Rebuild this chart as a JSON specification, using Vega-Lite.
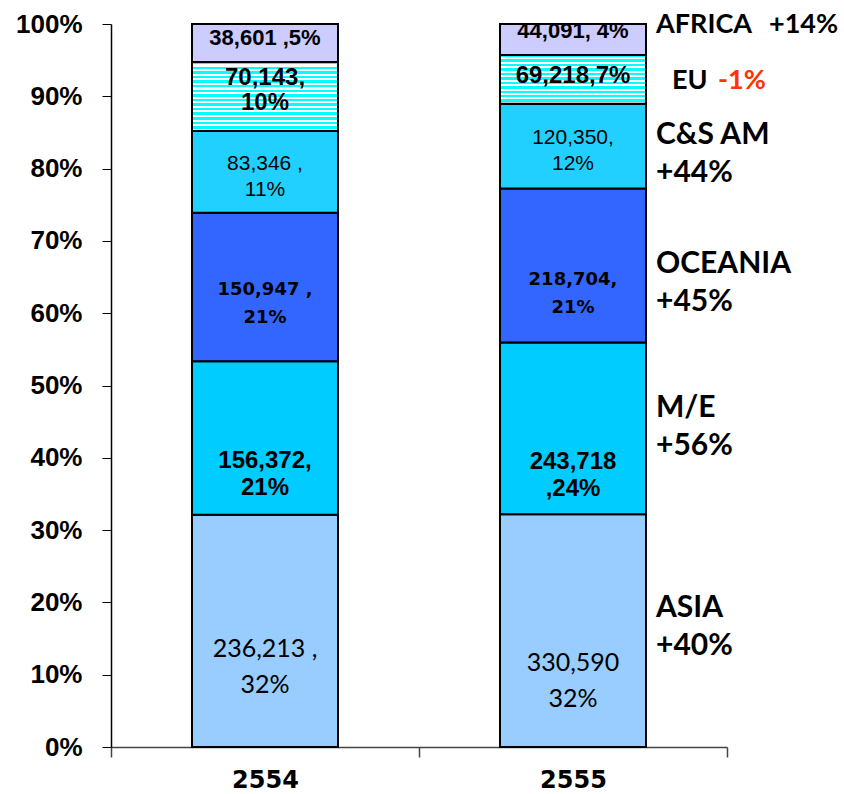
{
  "$schema": "https://vega.github.io/schema/vega-lite/v6.json",
  "autosize": {"type": "none"},
  "padding": {"left": 111, "top": 24, "right": 117, "bottom": 47},
  "width": 616,
  "height": 723,
  "background": "white",
  "config": {"view": {"stroke": null}},
  "data": {"values": [
    {"year": "2554", "region": "ASIA", "value": 236213, "label": "236,213 ,\n32%", "growth": "+40%"},
    {"year": "2554", "region": "M/E", "value": 156372, "label": "156,372,\n21%", "growth": "+56%"},
    {"year": "2554", "region": "OCEANIA", "value": 150947, "label": "150,947 ,\n21%", "growth": "+45%"},
    {"year": "2554", "region": "C&S AM", "value": 83346, "label": "83,346 ,\n11%", "growth": "+44%"},
    {"year": "2554", "region": "EU", "value": 70143, "label": "70,143,\n10%", "growth": "-1%"},
    {"year": "2554", "region": "AFRICA", "value": 38601, "label": "38,601 ,5%", "growth": "+14%"},
    {"year": "2555", "region": "ASIA", "value": 330590, "label": "330,590\n32%", "growth": "+40%"},
    {"year": "2555", "region": "M/E", "value": 243718, "label": "243,718\n,24%", "growth": "+56%"},
    {"year": "2555", "region": "OCEANIA", "value": 218704, "label": "218,704,\n21%", "growth": "+45%"},
    {"year": "2555", "region": "C&S AM", "value": 120350, "label": "120,350,\n12%", "growth": "+44%"},
    {"year": "2555", "region": "EU", "value": 69218, "label": "69,218,7%", "growth": "-1%"},
    {"year": "2555", "region": "AFRICA", "value": 44091, "label": "44,091, 4%", "growth": "+14%"}
  ]},
  "transform": [
    {"calculate": "indexof(['ASIA','M/E','OCEANIA','C&S AM','EU','AFRICA'], datum.region)", "as": "ord"},
    {"stack": "value", "groupby": ["year"], "sort": [{"field": "ord", "order": "ascending"}], "offset": "normalize", "as": ["y0", "y1"]},
    {"calculate": "(datum.y0 + datum.y1) / 2", "as": "ymid"}
  ],
  "layer": [
    {
      "mark": {"type": "bar", "width": {"band": 0.474}, "stroke": "black", "strokeWidth": 2},
      "encoding": {
        "x": {"field": "year", "type": "nominal", "scale": {"paddingInner": 0, "paddingOuter": 0},
          "axis": {"title": null, "labelAngle": 0, "tickBand": "extent", "domainColor": "#444444", "domainWidth": 1.5, "tickColor": "#444444", "tickWidth": 1.5, "tickSize": 10, "labelFont": "DejaVu Sans", "labelFontWeight": "bold", "labelFontSize": 24, "labelColor": "black", "labelPadding": 11}},
        "y": {"field": "y0", "type": "quantitative", "scale": {"domain": [0, 1], "nice": false},
          "axis": {"title": null, "values": [0, 0.1, 0.2, 0.3, 0.4, 0.5, 0.6, 0.7, 0.8, 0.9, 1], "format": ".0%", "grid": false, "domainColor": "black", "domainWidth": 1.5, "tickColor": "black", "tickSize": 9, "labelFont": "Liberation Sans", "labelFontWeight": "bold", "labelFontSize": 26, "labelColor": "black", "labelPadding": 20}},
        "y2": {"field": "y1"},
        "fill": {"field": "region", "type": "nominal", "legend": null,
          "scale": {"domain": ["ASIA", "M/E", "OCEANIA", "C&S AM", "EU", "AFRICA"], "range": ["#99CCFF", "#00CCFF", "#3366FF", "#21D0FF", "#80FFFF", "#CCCCFF"]}}
      }
    },
    {
      "transform": [{"filter": "datum.region === 'EU' && datum.year === '2554'"}],
      "mark": {"type": "bar", "width": {"band": 0.474}, "stroke": "black", "strokeWidth": 2,
        "fill": {"gradient": "linear", "x1": 0, "y1": 0, "x2": 0, "y2": 1, "stops": [
          {"offset": 0, "color": "#00FFFF"}, {"offset": 0.0367, "color": "#00FFFF"}, {"offset": 0.0367, "color": "#FFFFFF"}, {"offset": 0.0667, "color": "#FFFFFF"},
          {"offset": 0.0667, "color": "#00FFFF"}, {"offset": 0.1033, "color": "#00FFFF"}, {"offset": 0.1033, "color": "#FFFFFF"}, {"offset": 0.1333, "color": "#FFFFFF"},
          {"offset": 0.1333, "color": "#00FFFF"}, {"offset": 0.17, "color": "#00FFFF"}, {"offset": 0.17, "color": "#FFFFFF"}, {"offset": 0.2, "color": "#FFFFFF"},
          {"offset": 0.2, "color": "#00FFFF"}, {"offset": 0.2367, "color": "#00FFFF"}, {"offset": 0.2367, "color": "#FFFFFF"}, {"offset": 0.2667, "color": "#FFFFFF"},
          {"offset": 0.2667, "color": "#00FFFF"}, {"offset": 0.3033, "color": "#00FFFF"}, {"offset": 0.3033, "color": "#FFFFFF"}, {"offset": 0.3333, "color": "#FFFFFF"},
          {"offset": 0.3333, "color": "#00FFFF"}, {"offset": 0.37, "color": "#00FFFF"}, {"offset": 0.37, "color": "#FFFFFF"}, {"offset": 0.4, "color": "#FFFFFF"},
          {"offset": 0.4, "color": "#00FFFF"}, {"offset": 0.4367, "color": "#00FFFF"}, {"offset": 0.4367, "color": "#FFFFFF"}, {"offset": 0.4667, "color": "#FFFFFF"},
          {"offset": 0.4667, "color": "#00FFFF"}, {"offset": 0.5033, "color": "#00FFFF"}, {"offset": 0.5033, "color": "#FFFFFF"}, {"offset": 0.5333, "color": "#FFFFFF"},
          {"offset": 0.5333, "color": "#00FFFF"}, {"offset": 0.57, "color": "#00FFFF"}, {"offset": 0.57, "color": "#FFFFFF"}, {"offset": 0.6, "color": "#FFFFFF"},
          {"offset": 0.6, "color": "#00FFFF"}, {"offset": 0.6367, "color": "#00FFFF"}, {"offset": 0.6367, "color": "#FFFFFF"}, {"offset": 0.6667, "color": "#FFFFFF"},
          {"offset": 0.6667, "color": "#00FFFF"}, {"offset": 0.7033, "color": "#00FFFF"}, {"offset": 0.7033, "color": "#FFFFFF"}, {"offset": 0.7333, "color": "#FFFFFF"},
          {"offset": 0.7333, "color": "#00FFFF"}, {"offset": 0.77, "color": "#00FFFF"}, {"offset": 0.77, "color": "#FFFFFF"}, {"offset": 0.8, "color": "#FFFFFF"},
          {"offset": 0.8, "color": "#00FFFF"}, {"offset": 0.8367, "color": "#00FFFF"}, {"offset": 0.8367, "color": "#FFFFFF"}, {"offset": 0.8667, "color": "#FFFFFF"},
          {"offset": 0.8667, "color": "#00FFFF"}, {"offset": 0.9033, "color": "#00FFFF"}, {"offset": 0.9033, "color": "#FFFFFF"}, {"offset": 0.9333, "color": "#FFFFFF"},
          {"offset": 0.9333, "color": "#00FFFF"}, {"offset": 0.97, "color": "#00FFFF"}, {"offset": 0.97, "color": "#FFFFFF"}, {"offset": 1, "color": "#FFFFFF"}
        ]}},
      "encoding": {
        "x": {"field": "year", "type": "nominal"},
        "y": {"field": "y0", "type": "quantitative"},
        "y2": {"field": "y1"}
      }
    },
    {
      "transform": [{"filter": "datum.region === 'EU' && datum.year === '2555'"}],
      "mark": {"type": "bar", "width": {"band": 0.474}, "stroke": "black", "strokeWidth": 2,
        "fill": {"gradient": "linear", "x1": 0, "y1": 0, "x2": 0, "y2": 1, "stops": [
          {"offset": 0, "color": "#00FFFF"}, {"offset": 0.05, "color": "#00FFFF"}, {"offset": 0.05, "color": "#FFFFFF"}, {"offset": 0.0909, "color": "#FFFFFF"},
          {"offset": 0.0909, "color": "#00FFFF"}, {"offset": 0.1409, "color": "#00FFFF"}, {"offset": 0.1409, "color": "#FFFFFF"}, {"offset": 0.1818, "color": "#FFFFFF"},
          {"offset": 0.1818, "color": "#00FFFF"}, {"offset": 0.2318, "color": "#00FFFF"}, {"offset": 0.2318, "color": "#FFFFFF"}, {"offset": 0.2727, "color": "#FFFFFF"},
          {"offset": 0.2727, "color": "#00FFFF"}, {"offset": 0.3227, "color": "#00FFFF"}, {"offset": 0.3227, "color": "#FFFFFF"}, {"offset": 0.3636, "color": "#FFFFFF"},
          {"offset": 0.3636, "color": "#00FFFF"}, {"offset": 0.4136, "color": "#00FFFF"}, {"offset": 0.4136, "color": "#FFFFFF"}, {"offset": 0.4545, "color": "#FFFFFF"},
          {"offset": 0.4545, "color": "#00FFFF"}, {"offset": 0.5045, "color": "#00FFFF"}, {"offset": 0.5045, "color": "#FFFFFF"}, {"offset": 0.5455, "color": "#FFFFFF"},
          {"offset": 0.5455, "color": "#00FFFF"}, {"offset": 0.5955, "color": "#00FFFF"}, {"offset": 0.5955, "color": "#FFFFFF"}, {"offset": 0.6364, "color": "#FFFFFF"},
          {"offset": 0.6364, "color": "#00FFFF"}, {"offset": 0.6864, "color": "#00FFFF"}, {"offset": 0.6864, "color": "#FFFFFF"}, {"offset": 0.7273, "color": "#FFFFFF"},
          {"offset": 0.7273, "color": "#00FFFF"}, {"offset": 0.7773, "color": "#00FFFF"}, {"offset": 0.7773, "color": "#FFFFFF"}, {"offset": 0.8182, "color": "#FFFFFF"},
          {"offset": 0.8182, "color": "#00FFFF"}, {"offset": 0.8682, "color": "#00FFFF"}, {"offset": 0.8682, "color": "#FFFFFF"}, {"offset": 0.9091, "color": "#FFFFFF"},
          {"offset": 0.9091, "color": "#00FFFF"}, {"offset": 0.9591, "color": "#00FFFF"}, {"offset": 0.9591, "color": "#FFFFFF"}, {"offset": 1, "color": "#FFFFFF"}
        ]}},
      "encoding": {
        "x": {"field": "year", "type": "nominal"},
        "y": {"field": "y0", "type": "quantitative"},
        "y2": {"field": "y1"}
      }
    },
    {
      "transform": [{"filter": "datum.region === 'ASIA' && datum.year === '2554'"}],
      "mark": {"type": "text", "font": "Lato", "fontSize": 25, "lineHeight": 36, "lineBreak": "\n", "dy": 18, "baseline": "middle", "align": "center", "color": "black"},
      "encoding": {"x": {"field": "year", "type": "nominal"}, "y": {"field": "ymid", "type": "quantitative"}, "text": {"field": "label", "type": "nominal"}}
    },
    {
      "transform": [{"filter": "datum.region === 'ASIA' && datum.year === '2555'"}],
      "mark": {"type": "text", "font": "Lato", "fontSize": 25, "lineHeight": 36, "lineBreak": "\n", "dy": 32, "baseline": "middle", "align": "center", "color": "black"},
      "encoding": {"x": {"field": "year", "type": "nominal"}, "y": {"field": "ymid", "type": "quantitative"}, "text": {"field": "label", "type": "nominal"}}
    },
    {
      "transform": [{"filter": "datum.region === 'M/E' && datum.year === '2554'"}],
      "mark": {"type": "text", "font": "Liberation Sans", "fontWeight": "bold", "fontSize": 24, "lineHeight": 27, "lineBreak": "\n", "dy": 23.5, "baseline": "middle", "align": "center", "color": "black"},
      "encoding": {"x": {"field": "year", "type": "nominal"}, "y": {"field": "ymid", "type": "quantitative"}, "text": {"field": "label", "type": "nominal"}}
    },
    {
      "transform": [{"filter": "datum.region === 'M/E' && datum.year === '2555'"}],
      "mark": {"type": "text", "font": "Liberation Sans", "fontWeight": "bold", "fontSize": 24, "lineHeight": 27, "lineBreak": "\n", "dy": 33.5, "baseline": "middle", "align": "center", "color": "black"},
      "encoding": {"x": {"field": "year", "type": "nominal"}, "y": {"field": "ymid", "type": "quantitative"}, "text": {"field": "label", "type": "nominal"}}
    },
    {
      "transform": [{"filter": "datum.region === 'OCEANIA' && datum.year === '2554'"}],
      "mark": {"type": "text", "font": "DejaVu Sans", "fontWeight": "bold", "fontSize": 18, "lineHeight": 28, "lineBreak": "\n", "dy": 3, "baseline": "middle", "align": "center", "color": "black"},
      "encoding": {"x": {"field": "year", "type": "nominal"}, "y": {"field": "ymid", "type": "quantitative"}, "text": {"field": "label", "type": "nominal"}}
    },
    {
      "transform": [{"filter": "datum.region === 'OCEANIA' && datum.year === '2555'"}],
      "mark": {"type": "text", "font": "DejaVu Sans", "fontWeight": "bold", "fontSize": 18, "lineHeight": 28, "lineBreak": "\n", "dy": 14, "baseline": "middle", "align": "center", "color": "black"},
      "encoding": {"x": {"field": "year", "type": "nominal"}, "y": {"field": "ymid", "type": "quantitative"}, "text": {"field": "label", "type": "nominal"}}
    },
    {
      "transform": [{"filter": "datum.region === 'C&S AM'"}],
      "mark": {"type": "text", "font": "Liberation Sans", "fontSize": 21, "lineHeight": 26, "lineBreak": "\n", "dy": -8, "baseline": "middle", "align": "center", "color": "black"},
      "encoding": {"x": {"field": "year", "type": "nominal"}, "y": {"field": "ymid", "type": "quantitative"}, "text": {"field": "label", "type": "nominal"}}
    },
    {
      "transform": [{"filter": "datum.region === 'EU' && datum.year === '2554'"}],
      "mark": {"type": "text", "font": "Liberation Sans", "fontWeight": "bold", "fontSize": 24, "lineHeight": 25, "lineBreak": "\n", "dy": -18.5, "baseline": "middle", "align": "center", "color": "black"},
      "encoding": {"x": {"field": "year", "type": "nominal"}, "y": {"field": "ymid", "type": "quantitative"}, "text": {"field": "label", "type": "nominal"}}
    },
    {
      "transform": [{"filter": "datum.region === 'EU' && datum.year === '2555'"}],
      "mark": {"type": "text", "font": "Liberation Sans", "fontWeight": "bold", "fontSize": 24, "lineHeight": 25, "lineBreak": "\n", "dy": -3, "baseline": "middle", "align": "center", "color": "black"},
      "encoding": {"x": {"field": "year", "type": "nominal"}, "y": {"field": "ymid", "type": "quantitative"}, "text": {"field": "label", "type": "nominal"}}
    },
    {
      "transform": [{"filter": "datum.region === 'AFRICA' && datum.year === '2554'"}],
      "mark": {"type": "text", "font": "Liberation Sans", "fontWeight": "bold", "fontSize": 22, "dy": -5, "baseline": "middle", "align": "center", "color": "black"},
      "encoding": {"x": {"field": "year", "type": "nominal"}, "y": {"field": "ymid", "type": "quantitative"}, "text": {"field": "label", "type": "nominal"}}
    },
    {
      "transform": [{"filter": "datum.region === 'AFRICA' && datum.year === '2555'"}],
      "mark": {"type": "text", "font": "Liberation Sans", "fontWeight": "bold", "fontSize": 22, "dy": -9, "baseline": "middle", "align": "center", "color": "black"},
      "encoding": {"x": {"field": "year", "type": "nominal"}, "y": {"field": "ymid", "type": "quantitative"}, "text": {"field": "label", "type": "nominal"}}
    },
    {
      "transform": [{"filter": "datum.region === 'ASIA' && datum.year === '2555'"}, {"calculate": "datum.region + '\\n' + datum.growth", "as": "side"}],
      "mark": {"type": "text", "font": "Lato", "fontWeight": "bold", "fontSize": 30, "lineHeight": 38, "lineBreak": "\n", "dx": 83, "dy": -23, "baseline": "middle", "align": "left", "color": "black"},
      "encoding": {"x": {"field": "year", "type": "nominal"}, "y": {"field": "ymid", "type": "quantitative"}, "text": {"field": "side", "type": "nominal"}}
    },
    {
      "transform": [{"filter": "datum.region === 'M/E' && datum.year === '2555'"}, {"calculate": "datum.region + '\\n' + datum.growth", "as": "side"}],
      "mark": {"type": "text", "font": "Lato", "fontWeight": "bold", "fontSize": 30, "lineHeight": 38, "lineBreak": "\n", "dx": 83, "dy": -20, "baseline": "middle", "align": "left", "color": "black"},
      "encoding": {"x": {"field": "year", "type": "nominal"}, "y": {"field": "ymid", "type": "quantitative"}, "text": {"field": "side", "type": "nominal"}}
    },
    {
      "transform": [{"filter": "datum.region === 'OCEANIA' && datum.year === '2555'"}, {"calculate": "datum.region + '\\n' + datum.growth", "as": "side"}],
      "mark": {"type": "text", "font": "Lato", "fontWeight": "bold", "fontSize": 30, "lineHeight": 38, "lineBreak": "\n", "dx": 83, "dy": -2, "baseline": "middle", "align": "left", "color": "black"},
      "encoding": {"x": {"field": "year", "type": "nominal"}, "y": {"field": "ymid", "type": "quantitative"}, "text": {"field": "side", "type": "nominal"}}
    },
    {
      "transform": [{"filter": "datum.region === 'C&S AM' && datum.year === '2555'"}, {"calculate": "datum.region + '\\n' + datum.growth", "as": "side"}],
      "mark": {"type": "text", "font": "Lato", "fontWeight": "bold", "fontSize": 30, "lineHeight": 38, "lineBreak": "\n", "dx": 83, "dy": -11, "baseline": "middle", "align": "left", "color": "black"},
      "encoding": {"x": {"field": "year", "type": "nominal"}, "y": {"field": "ymid", "type": "quantitative"}, "text": {"field": "side", "type": "nominal"}}
    },
    {
      "transform": [{"filter": "datum.region === 'AFRICA' && datum.year === '2555'"}],
      "mark": {"type": "text", "font": "Lato", "fontWeight": "bold", "fontSize": 27, "dx": 83, "dy": -15, "baseline": "middle", "align": "left", "color": "black"},
      "encoding": {"x": {"field": "year", "type": "nominal"}, "y": {"field": "ymid", "type": "quantitative"}, "text": {"field": "region", "type": "nominal"}}
    },
    {
      "transform": [{"filter": "datum.region === 'AFRICA' && datum.year === '2555'"}],
      "mark": {"type": "text", "font": "Lato", "fontWeight": "bold", "fontSize": 27, "dx": 196, "dy": -15, "baseline": "middle", "align": "left", "color": "black"},
      "encoding": {"x": {"field": "year", "type": "nominal"}, "y": {"field": "ymid", "type": "quantitative"}, "text": {"field": "growth", "type": "nominal"}}
    },
    {
      "transform": [{"filter": "datum.region === 'EU' && datum.year === '2555'"}],
      "mark": {"type": "text", "font": "Lato", "fontWeight": "bold", "fontSize": 27, "dx": 99, "dy": 2, "baseline": "middle", "align": "left", "color": "black"},
      "encoding": {"x": {"field": "year", "type": "nominal"}, "y": {"field": "ymid", "type": "quantitative"}, "text": {"field": "region", "type": "nominal"}}
    },
    {
      "transform": [{"filter": "datum.region === 'EU' && datum.year === '2555'"}],
      "mark": {"type": "text", "font": "Lato", "fontWeight": "bold", "fontSize": 27, "dx": 145, "dy": 2, "baseline": "middle", "align": "left", "color": "#FF3300"},
      "encoding": {"x": {"field": "year", "type": "nominal"}, "y": {"field": "ymid", "type": "quantitative"}, "text": {"field": "growth", "type": "nominal"}}
    }
  ]
}
